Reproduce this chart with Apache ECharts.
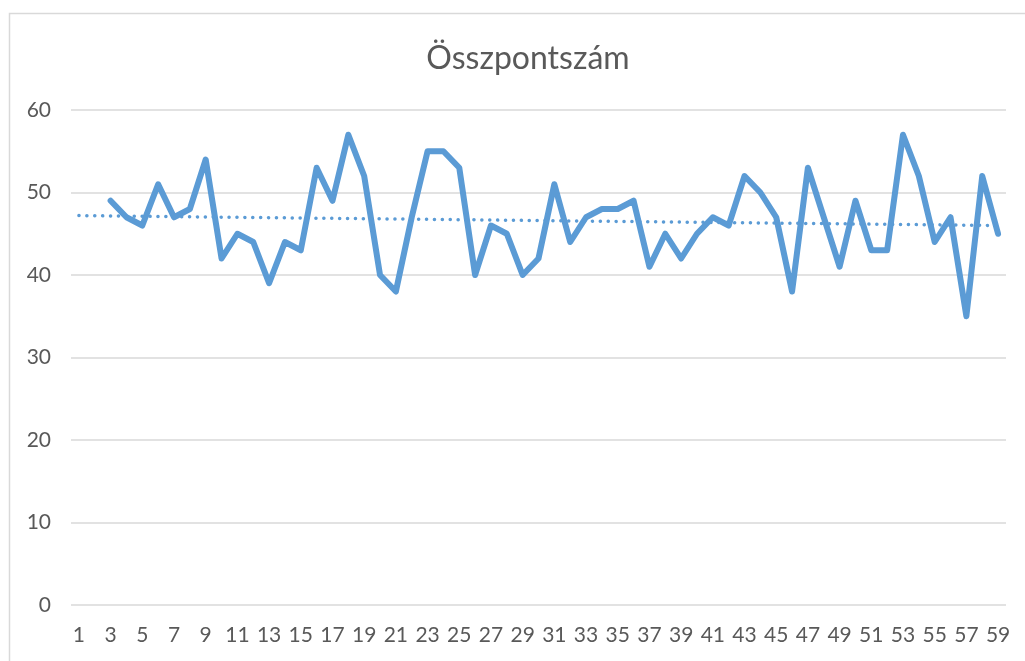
<!DOCTYPE html>
<html>
<head>
<meta charset="utf-8">
<script src="https://cdn.jsdelivr.net/npm/echarts@6/dist/echarts.min.js"></script>
<style>html,body{margin:0;padding:0;background:#fff;}#c{width:1025px;height:661px;}</style>
</head>
<body>
<div id="c"></div>
<script>
const titleText = 'Összpontszám';
const categories = [];
for (let i = 1; i <= 59; i++) categories.push(String(i));
// values for categories 1..59 (1 and 2 empty)
const scores = [null, null,
  49, 47, 46, 51, 47, 48, 54, 42, 45, 44, 39, 44, 43, 53, 49, 57, 52, 40,
  38, 47, 55, 55, 53, 40, 46, 45, 40, 42, 51, 44, 47, 48, 48, 49, 41, 45,
  42, 45, 47, 46, 52, 50, 47, 38, 53, 47, 41, 49, 43, 43, 57, 52, 44, 47,
  35, 52, 45];
const trendCats = ['1', '59'];
const trendValues = [47.2, 46.0];
const yTicks = [0, 10, 20, 30, 40, 50, 60];

const chart = echarts.init(document.getElementById('c'), null, {renderer: 'canvas'});
const font = 'Lato, "Open Sans", sans-serif';
chart.setOption({
  animation: false,
  backgroundColor: '#fff',
  graphic: [{
    type: 'rect', left: 7, top: 11,
    shape: {width: 1040, height: 700},
    style: {fill: 'none', stroke: '#d9d9d9', lineWidth: 1.5}
  }],
  title: {
    text: titleText, left: 523, top: 38, textAlign: 'center',
    textStyle: {fontFamily: font, fontSize: 32, fontWeight: 'normal', color: '#595959'}
  },
  grid: {left: 71, right: 19, top: 110, bottom: 56, containLabel: false},
  xAxis: {
    type: 'category', data: categories, boundaryGap: true,
    axisLine: {show: false}, axisTick: {show: false},
    axisLabel: {interval: 1, margin: 20, fontFamily: font, fontSize: 21, color: '#595959'}
  },
  yAxis: {
    type: 'value', min: yTicks[0], max: yTicks[yTicks.length - 1], interval: 10,
    axisLine: {show: false}, axisTick: {show: false},
    axisLabel: {margin: 20, fontFamily: font, fontSize: 21, color: '#595959'},
    splitLine: {lineStyle: {color: '#d9d9d9', width: 1.5}}
  },
  series: [{
    type: 'line', data: scores, showSymbol: false, symbol: 'none',
    lineStyle: {color: '#5b9bd5', width: 6, join: 'round', cap: 'round'},
    itemStyle: {color: '#5b9bd5'}
  }, {
    type: 'line', data: trendCats.map((c, i) => [c, trendValues[i]]),
    showSymbol: false, symbol: 'none',
    lineStyle: {color: '#5b9bd5', width: 3.5, type: [0.1, 7.8], cap: 'round'}
  }]
});
</script>
</body>
</html>
